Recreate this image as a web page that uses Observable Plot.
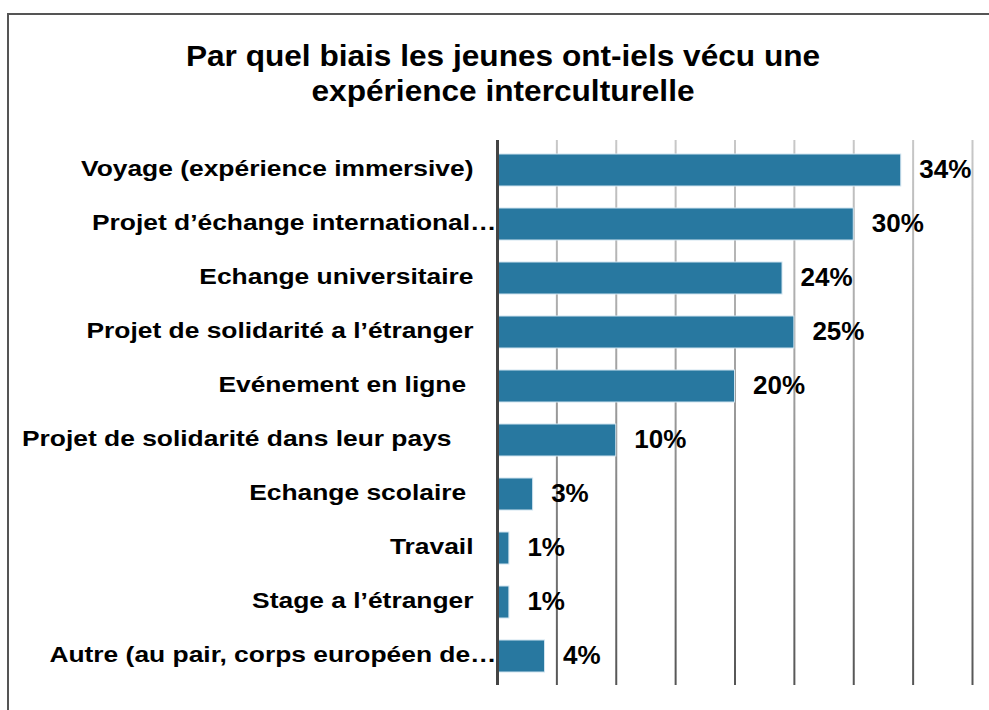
<!DOCTYPE html>
<html><head><meta charset="utf-8">
<script src="https://cdn.jsdelivr.net/npm/d3@7"></script>
<script src="https://cdn.jsdelivr.net/npm/@observablehq/plot@0.6"></script>
<style>
body{margin:0;background:#fff;font-family:"Liberation Sans",Arial,sans-serif;}
#frame{position:absolute;left:7px;top:13px;width:1000px;height:720px;border:2px solid #555;box-sizing:border-box;}
#title{position:absolute;left:0;width:1006px;top:39px;text-align:center;font-weight:bold;font-size:29px;line-height:35px;color:#000;transform:scaleX(1.09);transform-origin:503px 0;}
#chart{position:absolute;left:0;top:0;}
#chart svg text{white-space:pre;}
</style></head><body>
<div id="frame"></div>
<div id="title">Par quel biais les jeunes ont-iels vécu une<br>expérience interculturelle</div>
<div id="chart"></div>
<script>
const categories = [
  "Voyage (expérience immersive)",
  "Projet d’échange international…",
  "Echange universitaire",
  "Projet de solidarité a l’étranger",
  "Evénement en ligne ",
  "Projet de solidarité dans leur pays   ",
  "Echange scolaire ",
  "Travail",
  "Stage a l’étranger",
  "Autre (au pair, corps européen de…"
];
const values = [34, 30, 24, 25, 20, 10, 3, 1, 1, 4];
const gridTicks = [5, 10, 15, 20, 25, 30, 35, 40];

const data = categories.map((c, i) => ({cat: c, value: values[i]}));
const overlay = [];
data.forEach(d => gridTicks.forEach(t => { if (t < d.value) overlay.push({cat: d.cat, t}); }));
const truncated = data.filter(d => d.cat.endsWith("…"));
const normal = data.filter(d => !d.cat.endsWith("…"));

const chart = Plot.plot({
  width: 989,
  height: 710,
  marginLeft: 497,
  marginRight: 17,
  marginTop: 140,
  marginBottom: 25,
  style: {fontFamily: "'Liberation Sans', Arial, sans-serif", background: "transparent", overflow: "visible"},
  x: {domain: [0, 40], axis: null},
  y: {domain: categories, axis: null, paddingInner: 0.41, paddingOuter: 0.205},
  marks: [
    Plot.ruleX(gridTicks, {stroke: "url(#gridgrad)", strokeWidth: 2}),
    Plot.barX(data, {y: "cat", x: "value", fill: "#2878a0", stroke: "#cfe3ef", strokeWidth: 1}),
    Plot.ruleX(overlay, {x: "t", y: "cat", stroke: "#0d5a85", strokeWidth: 2, strokeOpacity: 0.45}),
    Plot.ruleX([0], {stroke: "#444", strokeWidth: 3}),
    Plot.text(data, {x: "value", y: "cat", text: d => d.value + "%", textAnchor: "start", dx: 18, dy: -1, fontSize: 26, fontWeight: "bold", fill: "#000"}),
    Plot.text(normal, {x: 0, y: "cat", text: "cat", textAnchor: "end", dx: -24, dy: -2, fontSize: 22, fontWeight: "bold", fill: "#000"}),
    Plot.text(truncated, {x: 0, y: "cat", text: "cat", textAnchor: "end", dx: -1, dy: -2, fontSize: 22, fontWeight: "bold", fill: "#000"})
  ]
});

// horizontal stretch of category labels (reference type is wide)
chart.querySelectorAll("text").forEach(t => {
  if (!categories.includes(t.textContent)) return;
  const tr = t.getAttribute("transform");
  if (tr) {
    t.setAttribute("transform", tr + " scale(1.2,1)");
  } else {
    const x = t.getAttribute("x") || 0, y = t.getAttribute("y") || 0;
    t.removeAttribute("x"); t.removeAttribute("y");
    t.setAttribute("transform", `translate(${x},${y}) scale(1.2,1)`);
  }
});

const ns = "http://www.w3.org/2000/svg";
const defs = document.createElementNS(ns, "defs");
const grad = document.createElementNS(ns, "linearGradient");
grad.setAttribute("id", "gridgrad");
grad.setAttribute("gradientUnits", "userSpaceOnUse");
grad.setAttribute("x1", 0); grad.setAttribute("y1", 140);
grad.setAttribute("x2", 0); grad.setAttribute("y2", 685);
[["0", "#c8c8c8"], ["0.45", "#a0a0a0"], ["1", "#555555"]].forEach(([o, c]) => {
  const s = document.createElementNS(ns, "stop");
  s.setAttribute("offset", o); s.setAttribute("stop-color", c);
  grad.appendChild(s);
});
defs.appendChild(grad);
chart.insertBefore(defs, chart.firstChild);
document.getElementById("chart").appendChild(chart);
</script>
</body></html>
